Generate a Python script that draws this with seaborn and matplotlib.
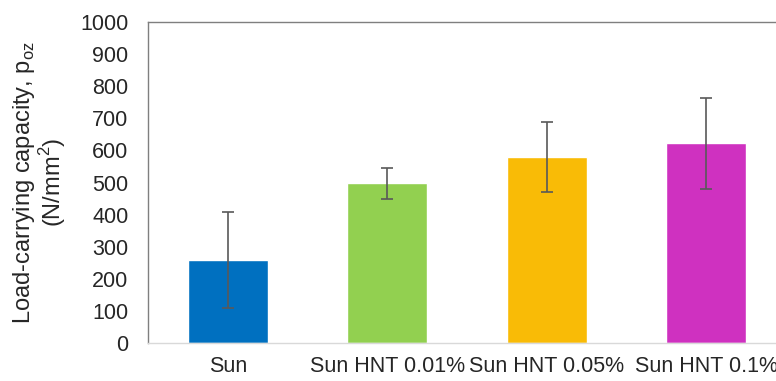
import pandas as pd
import matplotlib
matplotlib.use('Agg')
import matplotlib.pyplot as plt
import seaborn as sns

samples = ['Sun', 'Sun HNT 0.01%', 'Sun HNT 0.05%', 'Sun HNT 0.1%']
load_capacity = [258, 497, 579, 622]
std_dev = [149, 48, 110, 141]
bar_colors = ['#0070C0', '#92D050', '#F9BB06', '#CF31C0']

df = pd.DataFrame({'Sample': samples, 'Load': load_capacity})

sns.set_style('white')
plt.rcParams['font.family'] = ['Liberation Sans', 'DejaVu Sans']
plt.rcParams['mathtext.fontset'] = 'custom'
plt.rcParams['mathtext.rm'] = 'Liberation Sans'

fig = plt.figure(figsize=(7.76, 3.81), dpi=100)
ax = fig.add_axes([148 / 776, 38 / 381, 638 / 776, 321 / 381])

sns.barplot(data=df, x='Sample', y='Load', hue='Sample', palette=bar_colors,
            width=0.5, errorbar=None, legend=False, ax=ax, saturation=1)
ax.errorbar(range(len(samples)), load_capacity, yerr=std_dev, fmt='none',
            ecolor='#595959', elinewidth=1.2, capsize=4, capthick=1.2)

ax.set_xlim(-0.5, 3.5)
ax.set_ylim(0, 1000)
ax.set_yticks(range(0, 1001, 100))
ax.tick_params(axis='both', length=0, labelsize=15.5, colors='#262626')
ax.tick_params(axis='y', pad=14)
ax.tick_params(axis='x', pad=9)
ax.set_xlabel('')
ax.set_ylabel('Load-carrying capacity, p$_{\\mathregular{oz}}$\n(N/mm$^{\\mathregular{2}}$)',
              fontsize=17, color='#262626', labelpad=9, linespacing=1.0)

ax.spines['left'].set_color('#7f7f7f')
ax.spines['top'].set_color('#7f7f7f')
ax.spines['bottom'].set_color('#d9d9d9')
ax.spines['right'].set_visible(False)
for s in ax.spines.values():
    s.set_linewidth(1.0)

fig.savefig('out.png', dpi=100)
